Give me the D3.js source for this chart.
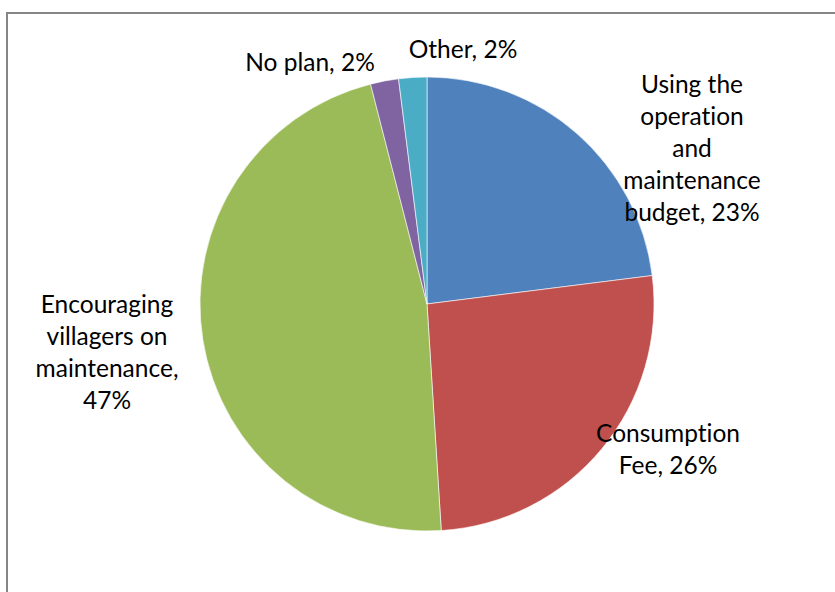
<!DOCTYPE html>
<html>
<head>
<meta charset="utf-8">
<script src="https://cdn.jsdelivr.net/npm/d3@7"></script>
<style>
  html, body { margin: 0; padding: 0; background: #fff; }
  svg { display: block; }
  text.label { font-variant-ligatures: none; font-feature-settings: "liga" 0, "clig" 0; }
</style>
</head>
<body>
<svg id="chart" width="835" height="592"></svg>
<script>
// Planned funding source for maintenance (share of respondents, %)
const categories = [
  "Using the operation and maintenance budget",
  "Consumption Fee",
  "Encouraging villagers on maintenance",
  "No plan",
  "Other"
];
const values = [23, 26, 47, 2, 2];

// Label lines as printed next to each slice
const labelLines = [
  ["Using the", "operation", "and", "maintenance", "budget, 23%"],
  ["Consumption", "Fee, 26%"],
  ["Encouraging", "villagers on", "maintenance,", "47%"],
  ["No plan, 2%"],
  ["Other, 2%"]
];

const colors = ["#4F81BD", "#C0504D", "#9BBB59", "#8064A2", "#4BACC6"];

// Label block centres (middle baseline), as offsets from the pie centre
const labelOffsets = [
  { dx: 265, dy: -147 },
  { dx: 241, dy: 154 },
  { dx: -320, dy: 57 },
  { dx: -117, dy: -233 },
  { dx: 36, dy: -246 }
];

const width = 835, height = 592;
const cx = 427, cy = 304, radius = 227;
const lineHeight = 32.2;

const svg = d3.select("#chart");

// Chart area border (extends past the right and bottom edges)
svg.append("rect")
  .attr("x", 7)
  .attr("y", 13)
  .attr("width", 900)
  .attr("height", 700)
  .attr("fill", "none")
  .attr("stroke", "#868686")
  .attr("stroke-width", 2);

const data = categories.map((c, i) => ({ category: c, value: values[i], index: i }));

const pie = d3.pie()
  .value(d => d.value)
  .sort(null)
  .startAngle(0)
  .endAngle(2 * Math.PI);

const arc = d3.arc().innerRadius(0).outerRadius(radius);

const g = svg.append("g").attr("transform", `translate(${cx},${cy})`);

g.selectAll("path.slice")
  .data(pie(data))
  .join("path")
  .attr("class", "slice")
  .attr("d", arc)
  .attr("fill", d => colors[d.data.index])
  .attr("stroke", "#ffffff")
  .attr("stroke-width", 0.6);

const labels = g.selectAll("text.label")
  .data(data)
  .join("text")
  .attr("class", "label")
  .attr("text-anchor", "middle")
  .attr("font-family", "Lato, 'Open Sans', sans-serif")
  .attr("font-size", 24.5)
  .attr("fill", "#000")
  .attr("transform", d => {
    const o = labelOffsets[d.index];
    const n = labelLines[d.index].length;
    const top = o.dy - (n - 1) * lineHeight / 2;
    return `translate(${o.dx},${top})`;
  });

labels.selectAll("tspan")
  .data(d => labelLines[d.index])
  .join("tspan")
  .attr("x", 0)
  .attr("dy", (t, i) => i === 0 ? 0 : lineHeight)
  .text(t => t);
</script>
</body>
</html>
